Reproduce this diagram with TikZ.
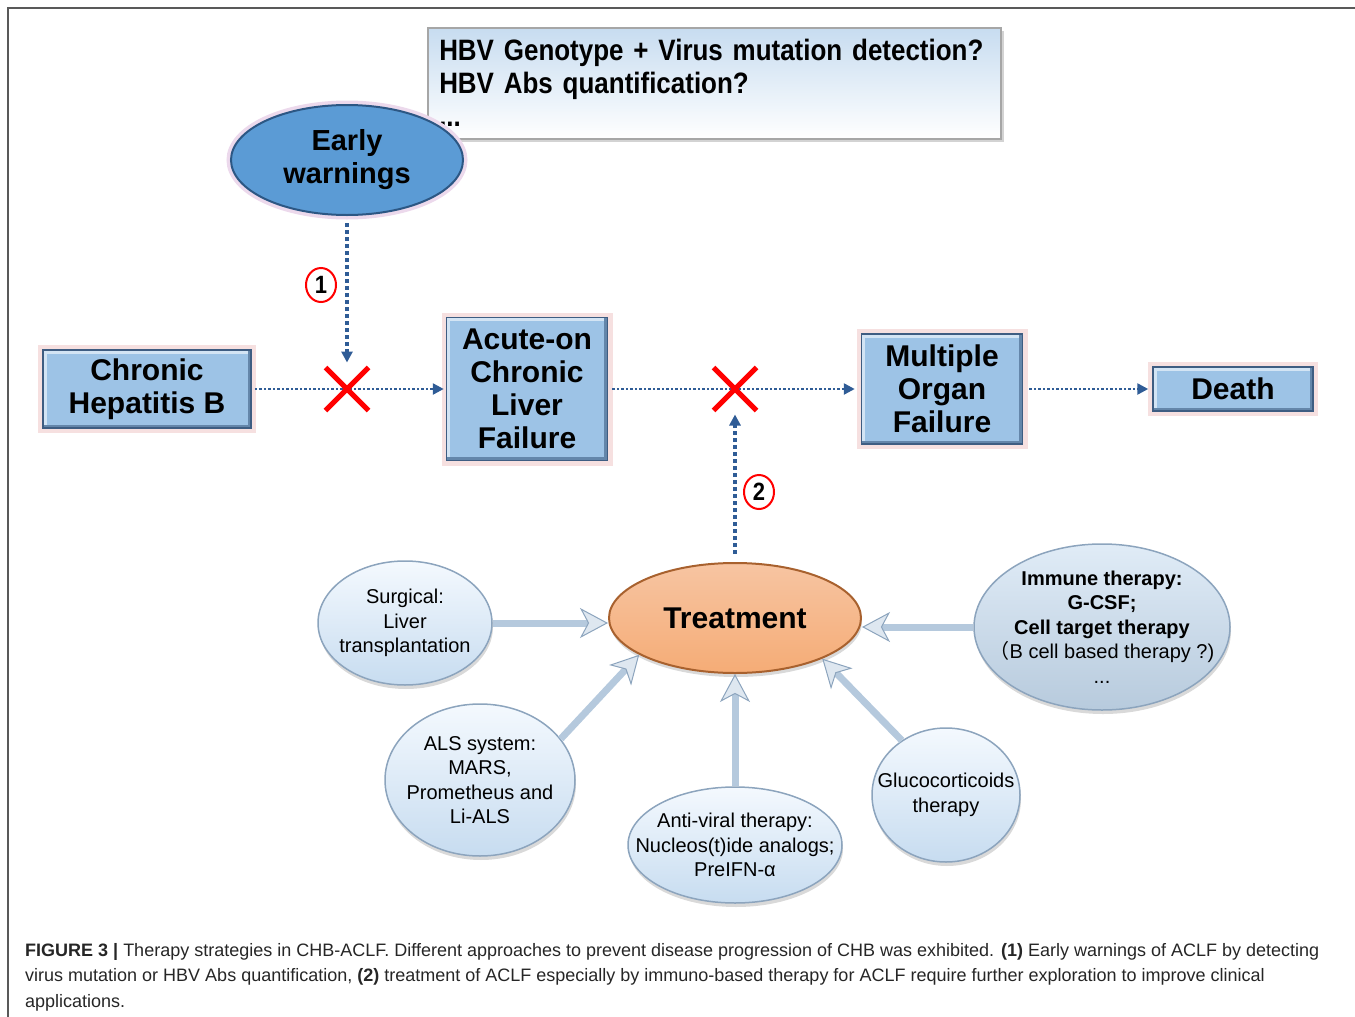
\documentclass[tikz,border=0pt]{standalone}
\usepackage{fontspec}
\setmainfont{Liberation Sans}
\newfontfamily\narrowfont[FakeStretch=0.88]{Liberation Sans}
\newfontfamily\cjk{Noto Sans CJK SC}
\usetikzlibrary{arrows.meta}
\usetikzlibrary{shapes.geometric,shapes.misc}
\usetikzlibrary{positioning,shadows}

\definecolor{boxblue}{HTML}{9DC3E6}
\definecolor{boxedge}{HTML}{3E5D82}
\definecolor{ewblue}{HTML}{5B9BD5}
\definecolor{ewedge}{HTML}{2C5784}
\definecolor{treatorange}{HTML}{F4B183}
\definecolor{treatedge}{HTML}{A8612E}
\definecolor{pathblue}{HTML}{2F5C96}
\definecolor{ovaledge}{HTML}{8CA4BD}
\definecolor{ovaltop}{HTML}{F4F9FE}
\definecolor{ovalbot}{HTML}{C7DCF0}
\definecolor{fatarrow}{HTML}{B5C9DD}
\definecolor{glowpink}{HTML}{F6E0E0}

\begin{document}
\begin{tikzpicture}[x=1pt,y=-1pt,
    stage/.style={rectangle, fill=boxblue, draw=boxedge, line width=1.5pt, align=center,
        inner sep=2pt, font=\fontsize{30}{33}\selectfont\bfseries,
        preaction={draw=glowpink, line width=10pt},
        path picture={
            \draw[white!55!boxblue, line width=7pt] (path picture bounding box.south west)
                -- (path picture bounding box.north west) -- (path picture bounding box.north east);
            \draw[boxedge!60!boxblue, line width=7pt] (path picture bounding box.north east)
                -- (path picture bounding box.south east) -- (path picture bounding box.south west);}},
    oval/.style={ellipse, inner sep=0pt, draw=ovaledge, line width=1.5pt,
        top color=ovaltop, bottom color=ovalbot,
        drop shadow={opacity=0.3, shadow xshift=1pt, shadow yshift=-4pt}},
    ovaltext/.style={align=center, inner sep=0pt, font=\fontsize{20}{24.5}\selectfont},
    flow/.style={draw=pathblue, line width=2.5pt, dash pattern=on 2.5pt off 2pt,
        -{Triangle[length=11pt,width=11pt]}},
    vflow/.style={flow, line width=4pt, dash pattern=on 4pt off 3pt},
    fat/.style={draw=fatarrow, line width=7pt,
        -{Stealth[length=28pt,width=30pt,inset=8pt,fill=fatarrow!45!white,color=ovaledge,line width=1pt]}},
    stop/.style={cross out, draw=red, line width=5pt, minimum size=38pt, inner sep=0pt},
    numcirc/.style={ellipse, draw=red, line width=2pt, fill=white, minimum width=30pt,
        minimum height=34pt, inner sep=0pt, font=\fontsize{25}{25}\narrowfont\bfseries},
]
\useasboundingbox (0,0) rectangle (1355,1017);
\draw[black!65, line width=1.2pt] (8,1017) -- (8,8) -- (1355,8);

% detection box
\node[rectangle, anchor=north west, minimum width=573pt, minimum height=111pt,
    text width=550pt, align=left, inner xsep=11.5pt, draw=black!35, line width=1.5pt,
    top color=ovalbot, bottom color=white,
    drop shadow={opacity=0.35, shadow xshift=3pt, shadow yshift=-3pt},
    font=\fontsize{29.5}{33}\narrowfont\bfseries] (hbv) at (427,27)
    {HBV Genotype + Virus mutation detection?\\HBV Abs quantification?\\...};

\node[ellipse, minimum width=232pt, minimum height=110pt, inner sep=0pt, align=center,
    fill=ewblue, draw=ewedge, line width=2pt, preaction={draw=violet!15, line width=9pt},
    font=\fontsize{29}{33}\selectfont\bfseries] (ew) at (347,160) {Early\\warnings};

% disease course
\node[stage, minimum width=208pt, minimum height=78pt] (chb) at (147,389) {Chronic\\Hepatitis B};
\node[stage, minimum width=161pt, minimum height=143pt] (aclf) at (527,389) {Acute-on\\Chronic\\Liver\\Failure};
\node[stage, minimum width=161pt, minimum height=110pt] (mof) at (942,389) {Multiple\\Organ\\Failure};
\node[stage, minimum width=160pt, minimum height=44pt] (death) at (1233,389) {Death};

\draw[flow, shorten <=3pt, shorten >=2pt] (chb) -- (aclf);
\draw[flow, shorten <=4pt, shorten >=6pt] (aclf) -- (mof);
\draw[flow, shorten <=6pt, shorten >=4pt] (mof) -- (death);

\node[stop] (x1) at (347,389) {};
\node[stop] (x2) at (735,389) {};

\draw[vflow, shorten <=7pt, shorten >=5pt] (ew.south) -- (x1.north);
\node[numcirc] (n1) at (321,285) {1};

% treatment
\node[ellipse, minimum width=252pt, minimum height=110pt, inner sep=0pt,
    top color=treatorange!75!white, bottom color=treatorange!90!orange, draw=treatedge, line width=2pt,
    drop shadow={opacity=0.3, shadow xshift=1pt, shadow yshift=-4pt},
    font=\fontsize{30}{33}\selectfont\bfseries] (treat) at (735,618) {Treatment};

\draw[vflow, shorten <=8pt, shorten >=4pt] (treat.north) -- (x2.south);
\node[numcirc] (n2) at (759,492) {2};

\node[oval, minimum width=174pt, minimum height=124pt,
    label={[ovaltext]center:Surgical:\\Liver\\transplantation}] (surg) at (405,623) {};
\node[oval, minimum width=190pt, minimum height=152pt,
    label={[ovaltext]center:ALS system:\\MARS,\\Prometheus and\\Li-ALS}] (als) at (480,780) {};
\node[oval, minimum width=214pt, minimum height=116pt,
    label={[ovaltext]center:Anti-viral therapy:\\Nucleos(t)ide analogs;\\PreIFN-α}] (antiv) at (735,845) {};
\node[oval, minimum width=148pt, minimum height=134pt,
    label={[ovaltext]center:Glucocorticoids\\therapy}] (gluco) at (946,795) {};
\node[oval, minimum width=256pt, minimum height=166pt, top color=ovalbot!55!white,
    bottom color=ovalbot!92!black,
    label={[ovaltext]center:\textbf{Immune therapy:}\\\textbf{G-CSF;}\\\textbf{Cell target therapy}\\{\cjk （}B cell based therapy ?)\\...}] (imm) at (1102,627) {};

\draw[fat] (surg.east) -- (surg.east -| treat.west);
\draw[fat] (als.27) -- (treat.201);
\draw[fat] (antiv.north) -- (treat.south);
\draw[fat] (gluco.129) -- (treat.335);
\draw[fat] (imm.west) -- (imm.west -| treat.east);

% caption
\node[anchor=north west, align=left, inner sep=0pt, text=black!85,
    font=\fontsize{18}{25.5}\selectfont] (cap) at (25,943)
    {\textbf{FIGURE 3 |} Therapy strategies in CHB-ACLF. Different approaches to prevent disease progression of CHB was exhibited. \textbf{(1)} Early warnings of ACLF by detecting\\
    virus mutation or HBV Abs quantification, \textbf{(2)} treatment of ACLF especially by immuno-based therapy for ACLF require further exploration to improve clinical\\
    applications.};
\end{tikzpicture}
\end{document}
